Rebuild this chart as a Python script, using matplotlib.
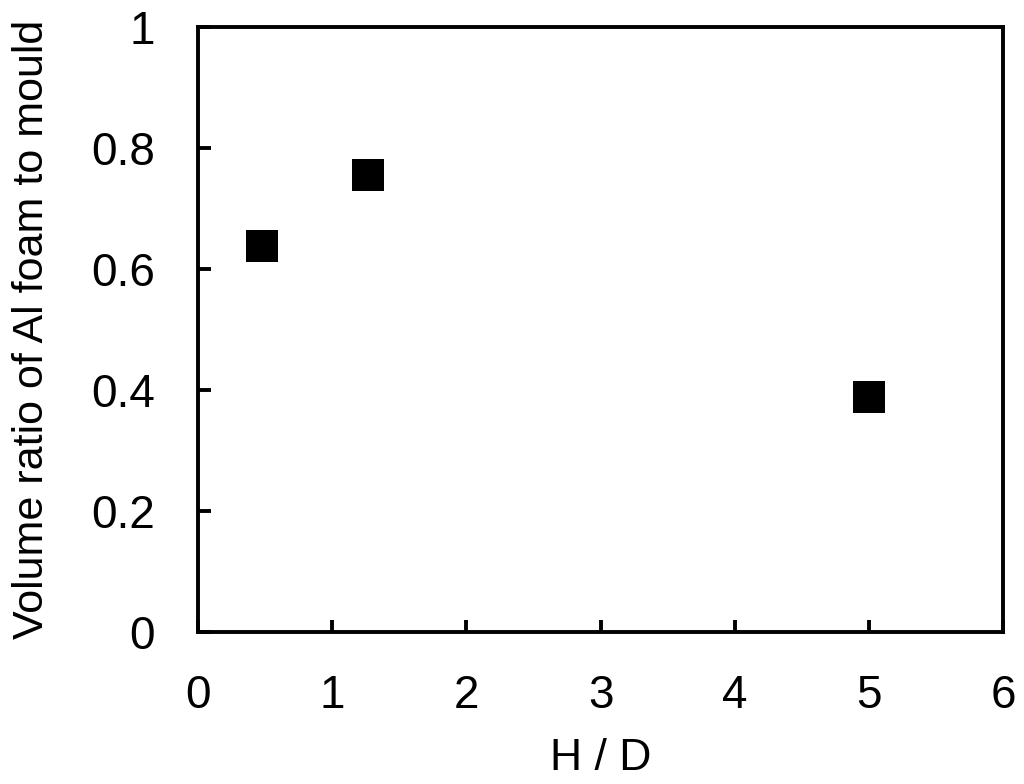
import numpy as np
import matplotlib
matplotlib.use('Agg')
import matplotlib.pyplot as plt

# H/D ratio vs. volume ratio of foam to mould
hd = [0.48, 1.27, 5.0]
vol_ratio = [0.638, 0.755, 0.388]

xticks = [0, 1, 2, 3, 4, 5, 6]
yticks = [0, 0.2, 0.4, 0.6, 0.8, 1.0]
ytick_labels = ['0', '0.2', '0.4', '0.6', '0.8', '1']

plt.rcParams['font.family'] = ['Liberation Sans', 'DejaVu Sans']

fig = plt.figure(figsize=(10.24, 7.84), dpi=100)
ax = fig.add_axes([0.1934, 0.1939, 0.7861, 0.7717])

ax.plot(hd, vol_ratio, 's', color='black', markersize=23, markeredgewidth=0)

ax.set_xlim(0, 6)
ax.set_ylim(0, 1)
ax.set_xticks(xticks)
ax.set_xticklabels([str(t) for t in xticks])
ax.set_yticks(yticks)
ax.set_yticklabels(ytick_labels)

for sp in ax.spines.values():
    sp.set_linewidth(2.8)
ax.tick_params(direction='in', length=9, width=2.8, labelsize=33)
ax.tick_params(axis='x', pad=30)
ax.tick_params(axis='y', pad=31)

ax.set_xlabel('H / D', fontsize=32, labelpad=15)
ax.set_ylabel('Volume ratio of Al foam to mould', fontsize=31, labelpad=28)

fig.savefig('out.png', dpi=100)
